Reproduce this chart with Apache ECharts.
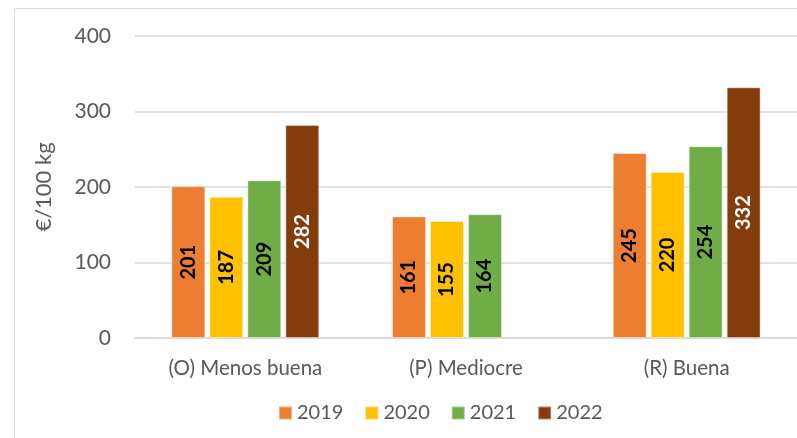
<!DOCTYPE html>
<html>
<head>
<meta charset="utf-8">
<script src="https://cdn.jsdelivr.net/npm/echarts@6/dist/echarts.min.js"></script>
<style>html,body{margin:0;padding:0;background:#fff}#c{width:797px;height:438px}</style>
</head>
<body>
<div id="c"></div>
<script>
const categories = ['(O) Menos buena', '(P) Mediocre', '(R) Buena'];
const years = ['2019', '2020', '2021', '2022'];
const v2019 = [201, 161, 245];
const v2020 = [187, 155, 220];
const v2021 = [209, 164, 254];
const v2022 = [282, null, 332];
const yTicks = [0, 100, 200, 300, 400];

const colors = ['#ED7D31', '#FFC000', '#70AD47', '#843C0C'];
const labelColors = ['#000', '#000', '#000', '#fff'];
const seriesData = [v2019, v2020, v2021, v2022];
const FONT = 'Lato, "Open Sans", sans-serif';

const chart = echarts.init(document.getElementById('c'));
chart.setOption({
  animation: false,
  textStyle: { fontFamily: FONT },
  graphic: [{
    type: 'rect', shape: { x: 14.5, y: 8.5, width: 900, height: 500 },
    style: { fill: 'none', stroke: '#d9d9d9', lineWidth: 1 }, silent: true, z: -1
  }],
  grid: { left: 135, right: 0, top: 36, bottom: 100, containLabel: false },
  legend: {
    data: years, bottom: 10, left: 273,
    itemWidth: 13, itemHeight: 13, itemGap: 21, icon: 'rect',
    textStyle: { fontSize: 20, color: '#595959', fontFamily: FONT }
  },
  xAxis: {
    type: 'category', data: categories,
    axisLine: { lineStyle: { color: '#d9d9d9', width: 1.5 } },
    axisTick: { show: false },
    axisLabel: { fontSize: 20.5, color: '#595959', margin: 20, fontFamily: FONT }
  },
  yAxis: {
    type: 'value', min: yTicks[0], max: yTicks[yTicks.length - 1], interval: 100,
    name: '€/100 kg', nameLocation: 'middle', nameGap: 80, nameRotate: 90,
    nameTextStyle: { fontSize: 22, color: '#595959', fontFamily: FONT },
    axisLine: { show: false }, axisTick: { show: false },
    axisLabel: { fontSize: 21, color: '#595959', margin: 24, fontFamily: FONT },
    splitLine: { lineStyle: { color: '#d9d9d9', width: 1.5 } }
  },
  series: years.map((y, i) => ({
    name: y, type: 'bar', data: seriesData[i],
    barCategoryGap: '33%', barGap: '12%',
    itemStyle: { color: colors[i], borderColor: 'rgba(255,255,255,0.4)', borderWidth: 1 },
    label: {
      show: true, position: 'inside', rotate: 90,
      fontSize: 20, fontWeight: 'bold', color: labelColors[i], fontFamily: FONT
    }
  }))
});
</script>
</body>
</html>
